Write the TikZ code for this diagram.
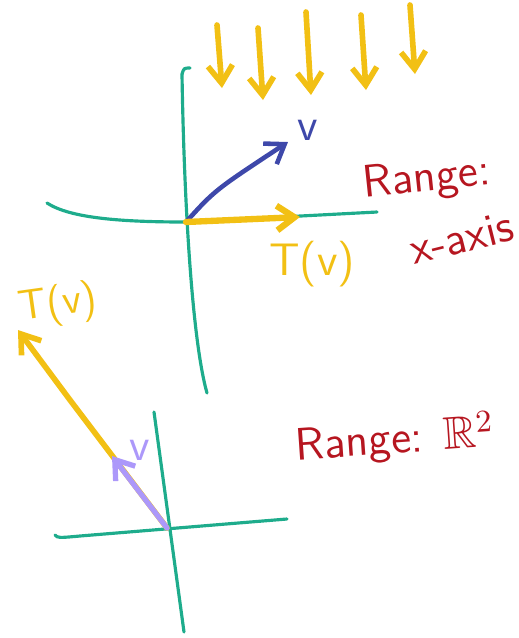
\documentclass[tikz,border=0pt]{standalone}
\usepackage{amssymb}
\usetikzlibrary{arrows.meta}
\definecolor{axisgreen}{RGB}{30,172,140}
\definecolor{gold}{RGB}{242,192,20}
\definecolor{vblue}{RGB}{62,72,170}
\definecolor{vlilac}{RGB}{172,152,250}
\definecolor{rangered}{RGB}{182,22,32}
\tikzset{
  axis/.style={axisgreen,line width=0.9pt,line cap=round},
  vec/.style={line width=1.3pt,line cap=round,-{Straight Barb[length=5pt,width=7pt]}},
  note/.style={rangered,font=\sffamily\fontsize{13}{15}\selectfont},
  lab/.style={font=\sffamily\fontsize{13}{15}\selectfont},
}
\begin{document}
\begin{tikzpicture}[x=0.01cm,y=-0.01cm]
  \useasboundingbox (0,0) rectangle (519,638);
  % projection onto the x-axis
  \begin{scope}
    \coordinate (o1) at (186,222);
    \coordinate (ytop1) at (190,68);
    \coordinate (ybot1) at (207,393);
    \coordinate (xl1) at (47,203);
    \coordinate (xr1) at (377,212);
    \draw[axis] (182,74) .. controls (184,68) .. (ytop1);
    \draw[axis] (182,74) .. controls (184,200) and (192,340) .. (ybot1);
    \draw[axis] (xl1) .. controls (70,218) and (120,222) .. (o1) -- (xr1);
    \draw[vec,vblue] (o1) .. controls (215,190) .. (288,142) coordinate (v1);
    \node[lab,vblue] (vlab1) at (308,130) {v};
    \draw[vec,gold,line width=1.8pt] (o1) -- (300,217) coordinate (tv1);
    \node[lab,gold] (tvlab1) at (312,264) {T(v)};
    \foreach \x/\a/\b in {217/25/88, 258/28/100, 306/12/95, 361/15/90, 410/5/74} {
      \coordinate (s\x) at (\x,\a);
      \coordinate (e\x) at (\x+5,\b);
      \draw[vec,gold,line width=1.6pt] (s\x) -- (e\x);
    }
    \node[note,rotate=6] (range1) at (427,180) {Range:};
    \node[note,rotate=14] (xaxis) at (462,238) {x-axis};
  \end{scope}
  % onto the whole plane
  \begin{scope}
    \coordinate (o2) at (167,528);
    \coordinate (ytop2) at (154,412);
    \coordinate (ybot2) at (184,632);
    \coordinate (xl2) at (55,535);
    \coordinate (xr2) at (287,519);
    \draw[axis] (ytop2) -- (ybot2);
    \draw[axis] (xl2) .. controls (58,538) .. (80,536) -- (xr2);
    \draw[vec,gold,line width=1.6pt] (o2) -- (70,400) -- (18,330) coordinate (tv2);
    \node[lab,gold,rotate=8,font=\sffamily\fontsize{12}{14}\selectfont] (tvlab2) at (58,305) {T(v)};
    \draw[vec,vlilac,line width=1.5pt] (o2) -- (112,456) coordinate (v2);
    \node[lab,vlilac] (vlab2) at (140,450) {v};
    \node[note,rotate=4] (range2) at (395,440) {Range: $\mathbb{R}^2$};
  \end{scope}
\end{tikzpicture}
\end{document}
